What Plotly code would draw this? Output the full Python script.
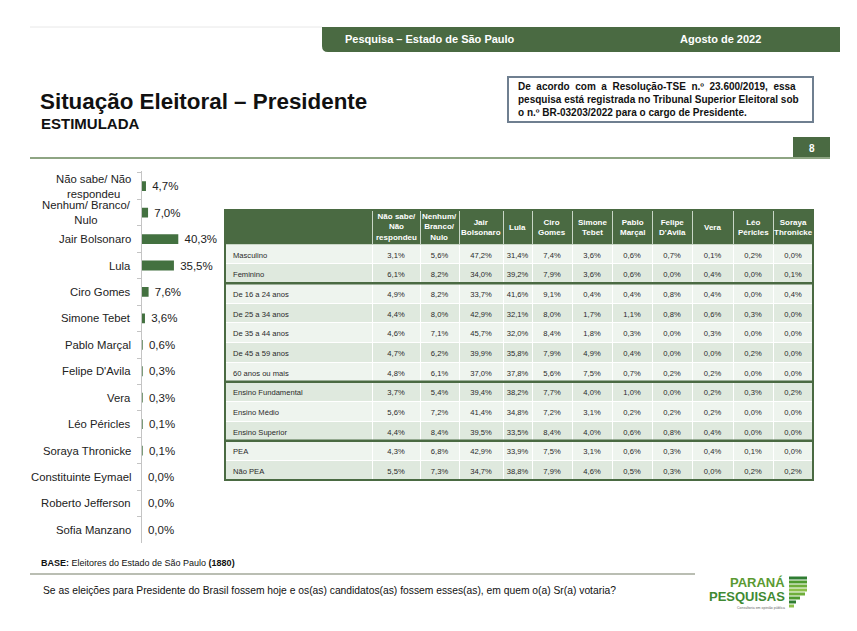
import plotly.graph_objects as go

# ---------------- data ----------------
candidates = ["Não sabe/ Não respondeu", "Nenhum/ Branco/ Nulo", "Jair Bolsonaro", "Lula",
              "Ciro Gomes", "Simone Tebet", "Pablo Marçal", "Felipe D'Avila", "Vera",
              "Léo Péricles", "Soraya Thronicke", "Constituinte Eymael", "Roberto Jefferson",
              "Sofia Manzano"]
candidate_labels = ["Não sabe/ Não<br>respondeu", "Nenhum/ Branco/<br>Nulo", "Jair Bolsonaro", "Lula",
                    "Ciro Gomes", "Simone Tebet", "Pablo Marçal", "Felipe D'Avila", "Vera",
                    "Léo Péricles", "Soraya Thronicke", "Constituinte Eymael", "Roberto Jefferson",
                    "Sofia Manzano"]
totals = [4.7, 7.0, 40.3, 35.5, 7.6, 3.6, 0.6, 0.3, 0.3, 0.1, 0.1, 0.0, 0.0, 0.0]

segments = ["Masculino", "Feminino", "De 16 a 24 anos", "De 25 a 34 anos", "De 35 a 44 anos",
            "De 45 a 59 anos", "60 anos ou mais", "Ensino Fundamental", "Ensino Médio",
            "Ensino Superior", "PEA", "Não PEA"]
segment_groups = [2, 5, 3, 2]
table_headers = ["", "Não sabe/<br>Não<br>respondeu", "Nenhum/<br>Branco/<br>Nulo", "Jair<br>Bolsonaro",
                 "Lula", "Ciro<br>Gomes", "Simone<br>Tebet", "Pablo<br>Marçal", "Felipe<br>D'Avila",
                 "Vera", "Léo<br>Péricles", "Soraya<br>Thronicke"]
nao_sabe = [3.1, 6.1, 4.9, 4.4, 4.6, 4.7, 4.8, 3.7, 5.6, 4.4, 4.3, 5.5]
nenhum = [5.6, 8.2, 8.2, 8.0, 7.1, 6.2, 6.1, 5.4, 7.2, 8.4, 6.8, 7.3]
bolsonaro = [47.2, 34.0, 33.7, 42.9, 45.7, 39.9, 37.0, 39.4, 41.4, 39.5, 42.9, 34.7]
lula = [31.4, 39.2, 41.6, 32.1, 32.0, 35.8, 37.8, 38.2, 34.8, 33.5, 33.9, 38.8]
ciro = [7.4, 7.9, 9.1, 8.0, 8.4, 7.9, 5.6, 7.7, 7.2, 8.4, 7.5, 7.9]
simone = [3.6, 3.6, 0.4, 1.7, 1.8, 4.9, 7.5, 4.0, 3.1, 4.0, 3.1, 4.6]
pablo = [0.6, 0.6, 0.4, 1.1, 0.3, 0.4, 0.7, 1.0, 0.2, 0.6, 0.6, 0.5]
felipe = [0.7, 0.0, 0.8, 0.8, 0.0, 0.0, 0.2, 0.0, 0.2, 0.8, 0.3, 0.3]
vera = [0.1, 0.4, 0.4, 0.6, 0.3, 0.0, 0.2, 0.2, 0.2, 0.4, 0.4, 0.0]
leo = [0.2, 0.0, 0.0, 0.3, 0.0, 0.2, 0.0, 0.3, 0.0, 0.0, 0.1, 0.2]
soraya = [0.0, 0.1, 0.4, 0.0, 0.0, 0.0, 0.0, 0.2, 0.0, 0.0, 0.0, 0.2]

# ---------------- helpers ----------------
W, H = 857, 631
def px(x): return x / W
def py(y): return 1 - y / H
def pct(v): return f"{v:.1f}".replace(".", ",") + "%"

GREEN = "#4a6a42"
FONT = "Liberation Sans, Arial, sans-serif"
NARROW = "Liberation Sans Narrow, Arial Narrow, Liberation Sans, Arial, sans-serif"

fig = go.Figure()

# ---------------- bar chart ----------------
fig.add_trace(go.Bar(
    x=totals, y=candidates, orientation="h",
    marker=dict(color="#437140", line=dict(width=0)),
    text=["\u00a0" + pct(v) for v in totals], textposition="outside", constraintext="none",
    textfont=dict(size=11.5, color="#222222", family=FONT),
    cliponaxis=False, width=0.37, hoverinfo="skip", showlegend=False,
))

# ---------------- table ----------------
cols = [nao_sabe, nenhum, bolsonaro, lula, ciro, simone, pablo, felipe, vera, leo, soraya]
row_fill = ["#eef4ee" if i % 2 == 0 else "#dfe9de" for i in range(len(segments))]
col_edges = [225, 372, 420, 459, 503, 532, 572, 612, 652, 692, 733, 773, 813]
col_widths = [col_edges[i + 1] - col_edges[i] for i in range(len(col_edges) - 1)]
T_TOP, HEAD_H, ROW_H = 210, 34, 19.67
T_BOT = T_TOP + HEAD_H + ROW_H * len(segments)

fig.add_trace(go.Table(
    domain=dict(x=[px(col_edges[0]), px(col_edges[-1])], y=[py(T_BOT + 6), py(T_TOP)]),
    columnwidth=col_widths,
    header=dict(values=[""] * len(table_headers),
                fill_color=GREEN, line=dict(color="#c9d6c6", width=1),
                font=dict(color="white", size=7.5, family=FONT),
                align="center", height=HEAD_H),
    cells=dict(values=[segments] + [[pct(v) for v in c] for c in cols],
               fill_color=[row_fill] * 12, line=dict(color="white", width=1),
               font=dict(color="#2a2a2a", size=7.6, family=FONT),
               align=["left"] + ["center"] * 11, height=ROW_H),
))

shapes = []
# table border and group separators
shapes.append(dict(type="rect", xref="paper", yref="paper",
                   x0=px(col_edges[0]), x1=px(col_edges[-1]), y0=py(T_BOT), y1=py(T_TOP),
                   line=dict(color=GREEN, width=2)))
acc = 0
for g in segment_groups[:-1]:
    acc += g
    yy = T_TOP + HEAD_H + acc * ROW_H
    shapes.append(dict(type="line", xref="paper", yref="paper",
                       x0=px(col_edges[0]), x1=px(col_edges[-1]), y0=py(yy), y1=py(yy),
                       line=dict(color=GREEN, width=2.5)))

# header decorations
shapes.append(dict(type="line", xref="paper", yref="paper", x0=px(30), x1=px(322), y0=py(27), y1=py(27),
                   line=dict(color="#e8e8e8", width=1)))
shapes.append(dict(type="path", xref="paper", yref="paper",
                   path=f"M {px(322)},{py(27)} L {px(840)},{py(27)} L {px(840)},{py(52)} "
                        f"L {px(328)},{py(52)} Q {px(322)},{py(52)} {px(322)},{py(46)} Z",
                   fillcolor=GREEN, line=dict(width=0)))
shapes.append(dict(type="rect", xref="paper", yref="paper", x0=px(508), x1=px(813), y0=py(122), y1=py(77),
                   line=dict(color="#6f7f90", width=2), fillcolor="white"))
shapes.append(dict(type="line", xref="paper", yref="paper", x0=px(30), x1=px(830), y0=py(158), y1=py(158),
                   line=dict(color="#8ea583", width=2)))
shapes.append(dict(type="rect", xref="paper", yref="paper", x0=px(793), x1=px(830), y0=py(157), y1=py(137),
                   fillcolor=GREEN, line=dict(width=0)))
# footer line
shapes.append(dict(type="line", xref="paper", yref="paper", x0=px(30), x1=px(695), y0=py(574), y1=py(574),
                   line=dict(color="#a3a99a", width=1.5)))
# logo stripes
stripe_cols = ["#2f7d32", "#4e9a2e", "#6fae3a", "#8cc04a", "#6fae3a", "#4e9a2e", "#2f7d32", "#8cc04a"]
stripe_end = [807, 807, 807, 807, 805, 800, 796, 794]
for i, c in enumerate(stripe_cols):
    y0 = 576.5 + i * 4
    shapes.append(dict(type="rect", xref="paper", yref="paper", x0=px(789), x1=px(stripe_end[i]),
                       y0=py(y0 + 3), y1=py(y0), fillcolor=c, line=dict(width=0)))

ann = []
def text(x, y, s, size, color="#111111", family=FONT, xanchor="left", align="left", yanchor="middle"):
    ann.append(dict(x=px(x), y=py(y), xref="paper", yref="paper", text=s, showarrow=False,
                    xanchor=xanchor, yanchor=yanchor, align=align,
                    font=dict(size=size, color=color, family=family)))

NB = "\u00a0 "
text(343, 39, "<b>Pesquisa – Estado de São Paulo</b>", 11, "white", NARROW)
text(678, 39, "<b>Agosto de 2022</b>", 11, "white", NARROW)
text(38, 101, "<b>Situação Eleitoral – Presidente</b>", 22.4, "#111111")
text(39, 124, "<b>ESTIMULADA</b>", 15, "#111111")
line1 = NB.join("De acordo com a Resolução-TSE n.º 23.600/2019, essa".split(" "))
text(516, 99.5, f"<b>{line1}<br>"
                "pesquisa está registrada no Tribunal Superior Eleitoral sob<br>"
                "o n.º BR-03203/2022 para o cargo de Presidente.</b>", 10, "#111111")
text(811.5, 148, "<b>8</b>", 10, "white", FONT, xanchor="center")
text(39, 563, "<b>BASE:</b> Eleitores do Estado de São Paulo <b>(1880)</b>", 9, "#111111", NARROW)
text(41, 590, "Se as eleições para Presidente do Brasil fossem hoje e os(as) candidatos(as) fossem esses(as), "
              "em quem o(a) Sr(a) votaria?", 10.3, "#111111", NARROW)
text(787, 582.5, "<b>PARANÁ</b>", 13, "#5a9a32", NARROW, xanchor="right")
text(787, 596.5, "<b>PESQUISAS</b>", 13, "#3f8a33", NARROW, xanchor="right")
text(787, 607.5, "Consultoria em opinião pública", 3.5, "#666666", FONT, xanchor="right")

# table header texts, centred in each column
for i, h in enumerate(table_headers):
    if h:
        text((col_edges[i] + col_edges[i + 1]) / 2, T_TOP + HEAD_H / 2, f"<b>{h}</b>", 8,
             "white", FONT, xanchor="center", align="center")

# candidate labels on the category axis
for cat, lab in zip(candidates, candidate_labels):
    ann.append(dict(x=px(132.5), xref="paper", y=cat, yref="y", text=lab, showarrow=False,
                    xanchor="right", yanchor="middle", align="center",
                    font=dict(size=11.3, color="#222222", family=FONT)))

fig.update_layout(
    width=W, height=H, margin=dict(l=0, r=0, t=0, b=0),
    paper_bgcolor="white", plot_bgcolor="white",
    font=dict(family=FONT),
    xaxis=dict(domain=[px(141.7), px(232.5)], range=[0, 100], visible=False, fixedrange=True),
    yaxis=dict(domain=[py(543.1), py(170.7)], type="category", categoryorder="array",
               categoryarray=candidates, autorange="reversed",
               showline=True, linecolor="#c4c4c4", linewidth=1,
               ticks="outside", tickson="boundaries", ticklen=4, tickcolor="#c4c4c4",
               showticklabels=False, showgrid=False, zeroline=False, fixedrange=True),
    shapes=shapes, annotations=ann, bargap=0.63,
)

fig.write_html("out.html", config={"displayModeBar": False},
               post_script="document.body.style.margin='0';document.body.style.overflow='hidden';")
